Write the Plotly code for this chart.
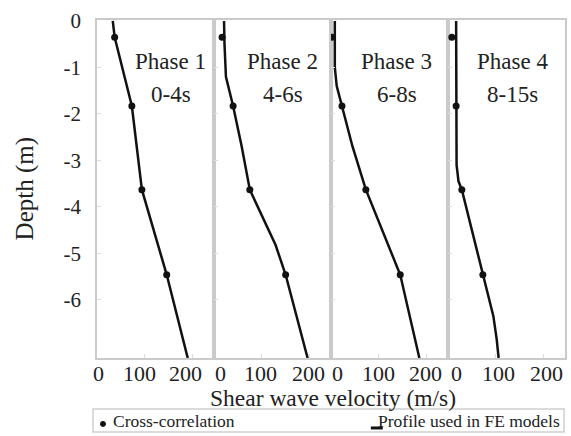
import plotly.graph_objects as go
from plotly.subplots import make_subplots

# ---- data ----
phase_labels = ["Phase 1", "Phase 2", "Phase 3", "Phase 4"]
phase_times = ["0-4s", "4-6s", "6-8s", "8-15s"]
label_x = [154, 144, 138, 135]

cc_depth = [-0.35, -1.83, -3.63, -5.46]
cc_v1 = [37, 73, 94, 146]
cc_v2 = [17, 40, 75, 150]
cc_v3 = [2, 23, 73, 145]
cc_v4 = [8, 17, 29, 73]

fe_d1 = [0, -0.35, -1.83, -3.63, -5.46, -7.25]
fe_v1 = [33, 37, 73, 94, 146, 190]
fe_d2 = [0, -0.5, -1.2, -1.83, -2.7, -3.63, -4.82, -5.46, -7.25]
fe_v2 = [21, 22, 25, 40, 58, 75, 129, 150, 196]
fe_d3 = [0, -1.0, -1.4, -1.83, -2.7, -3.63, -5.46, -7.25]
fe_v3 = [8, 8, 12, 23, 45, 73, 145, 185]
fe_d4 = [0, -2.5, -3.1, -3.45, -3.63, -4.5, -5.46, -6.35, -6.85, -7.25]
fe_v4 = [17, 17, 18, 22, 29, 50, 73, 95, 102, 106]

x_ticks = [0, 100, 200]
x_ticktext = ["0", "100", "200"]
# small per-label offsets (px) so that adjacent panels' "200" and "0" do not collide
x_label_shift = [[1, -5, -7], [6, -1, -1], [6, 0, -1], [8, 3, 3]]
y_ticks = [0, -1, -2, -3, -4, -5, -6]
y_ticktext = ["0", "-1", "-2", "-3", "-4", "-5", "-6"]

cc_all = [cc_v1, cc_v2, cc_v3, cc_v4]
fe_all = [(fe_v1, fe_d1), (fe_v2, fe_d2), (fe_v3, fe_d3), (fe_v4, fe_d4)]

FONT = "Liberation Serif"
TXT = "#222222"
BORDER = "#cacaca"

fig = make_subplots(rows=1, cols=4, shared_yaxes=True, horizontal_spacing=0)

for i in range(4):
    fv, fd = fe_all[i]
    fig.add_trace(go.Scatter(x=fv, y=fd, mode="lines", name="Profile used in FE models",
                             line=dict(color="#111111", width=2.5), showlegend=False),
                  row=1, col=i + 1)
    fig.add_trace(go.Scatter(x=cc_all[i], y=cc_depth, mode="markers", name="Cross-correlation",
                             marker=dict(color="#111111", size=7), showlegend=False),
                  row=1, col=i + 1)
    fig.update_xaxes(range=[0, 245], tickvals=x_ticks, showticklabels=False,
                     ticks="inside", ticklen=4,
                     tickcolor="#dddddd", showline=True, linecolor=BORDER, linewidth=1.5,
                     mirror=True, showgrid=False, zeroline=False,
                     row=1, col=i + 1)
    fig.update_yaxes(range=[-7.25, 0.02], tickvals=y_ticks, ticktext=y_ticktext,
                     ticks="inside", ticklen=4, tickcolor="#dddddd",
                     showline=True, linecolor=BORDER, linewidth=1.5, mirror=True,
                     showgrid=False, zeroline=False,
                     showticklabels=(i == 0), ticklabelstandoff=10,
                     tickfont=dict(family=FONT, size=21, color=TXT),
                     row=1, col=i + 1)
    xr = "x" if i == 0 else f"x{i + 1}"
    yr = "y" if i == 0 else f"y{i + 1}"
    fig.add_annotation(x=label_x[i], y=-0.88, xref=xr, yref=yr, text=phase_labels[i],
                       showarrow=False, font=dict(family=FONT, size=23, color=TXT))
    fig.add_annotation(x=label_x[i], y=-1.58, xref=xr, yref=yr, text=phase_times[i],
                       showarrow=False, font=dict(family=FONT, size=23, color=TXT))
    # x tick labels placed at the axis tick values
    for v, t, s in zip(x_ticks, x_ticktext, x_label_shift[i]):
        fig.add_annotation(x=v, y=-0.047, xref=xr, yref="paper", text=t, xshift=s,
                           showarrow=False, xanchor="center", yanchor="middle",
                           font=dict(family=FONT, size=22, color=TXT))

# axis titles
fig.add_annotation(x=0.504, y=-0.119, xref="paper", yref="paper", text="Shear wave velocity (m/s)",
                   showarrow=False, yanchor="middle", font=dict(family=FONT, size=23.5, color=TXT))
fig.add_annotation(x=-0.153, y=0.5, xref="paper", yref="paper", text="Depth (m)", textangle=-90,
                   showarrow=False, xanchor="center", yanchor="middle",
                   font=dict(family=FONT, size=25, color=TXT))

# legend box (drawn below the plot)
fig.add_shape(type="rect", xref="paper", yref="paper", x0=-0.0085, x1=0.998, y0=-0.219, y1=-0.151,
              line=dict(color="#cfcfcf", width=1.5), fillcolor="white")
fig.add_shape(type="circle", xref="paper", yref="paper", xsizemode="pixel", ysizemode="pixel",
              xanchor=(103 - 97) / 470, yanchor=-0.195, x0=-2.5, x1=2.5, y0=-2.5, y1=2.5,
              fillcolor="#111111", line=dict(color="#111111", width=1))
fig.add_annotation(x=(111 - 97) / 470, y=-0.187, xref="paper", yref="paper", text="Cross-correlation",
                   showarrow=False, xanchor="left", yanchor="middle",
                   font=dict(family=FONT, size=17.5, color=TXT))
fig.add_shape(type="line", xref="paper", yref="paper", x0=(372 - 97) / 470, x1=(384 - 97) / 470,
              y0=-0.207, y1=-0.207, line=dict(color="#111111", width=3))
fig.add_annotation(x=(564 - 97) / 470, y=-0.187, xref="paper", yref="paper",
                   text="Profile used in FE models",
                   showarrow=False, xanchor="right", yanchor="middle",
                   font=dict(family=FONT, size=17.5, color=TXT))

fig.update_layout(width=571, height=436, margin=dict(l=97, r=4, t=20, b=78),
                  paper_bgcolor="white", plot_bgcolor="white", showlegend=False,
                  font=dict(family=FONT, color=TXT))

fig.write_html("out.html", config={"displayModeBar": False},
               post_script="document.body.style.margin='0';document.body.style.padding='0';")
